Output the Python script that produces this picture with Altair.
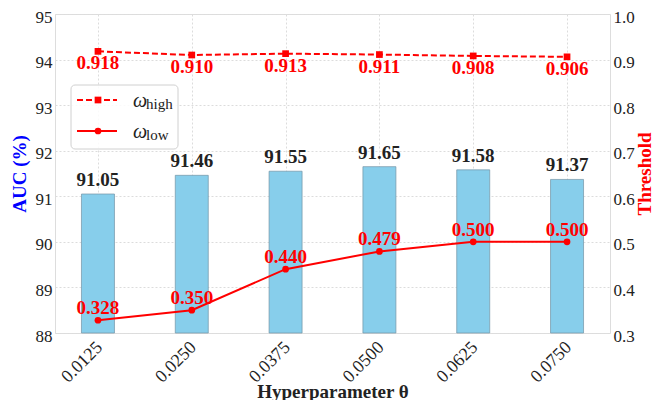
import altair as alt
import pandas as pd

thetas = ["0.0125", "0.0250", "0.0375", "0.0500", "0.0625", "0.0750"]
auc = [91.05, 91.46, 91.55, 91.65, 91.58, 91.37]
w_high = [0.918, 0.910, 0.913, 0.911, 0.908, 0.906]
w_low = [0.328, 0.350, 0.440, 0.479, 0.500, 0.500]

df = pd.DataFrame({"theta": thetas, "auc": auc, "w_high": w_high, "w_low": w_low})
df["auc_lbl"] = [f"{v:.2f}" for v in auc]
df["high_lbl"] = [f"{v:.3f}" for v in w_high]
df["low_lbl"] = [f"{v:.3f}" for v in w_low]

FONT = "Liberation Serif"
W, H = 555, 319

x = alt.X(
    "theta:O",
    sort=thetas,
    scale=alt.Scale(type="point", padding=0.458),
    axis=alt.Axis(
        title="Hyperparameter θ", labelAngle=-45, labelFontSize=18, labelColor="#222",
        titleFontSize=19, titleFontWeight="bold", titleColor="#222",
        titleBaseline="alphabetic", titleY=64,
        ticks=False, domain=False, labelPadding=5, labelOffset=-5,
        grid=True, gridDash=[2, 2], gridColor="#dcdcdc",
    ),
)

left_axis = alt.Axis(
    title="AUC (%)", values=list(range(88, 96)), orient="left",
    labelFontSize=17, labelColor="#222", titleFontSize=19, titleFontWeight="bold",
    titleColor="blue", titlePadding=6, ticks=False, domain=False, labelPadding=3,
    labelOffset=3,
    grid=True, gridDash=[2, 2], gridColor="#dcdcdc",
)
left_scale = alt.Scale(domain=[88, 95], zero=False, nice=False)

right_axis = alt.Axis(
    title="Threshold", values=[0.3, 0.4, 0.5, 0.6, 0.7, 0.8, 0.9, 1.0], format=".1f",
    orient="right", labelFontSize=17, labelColor="#222", titleFontSize=19,
    titleFontWeight="bold", titleColor="red", titlePadding=1, titleAngle=270,
    titleBaseline="top", labelOffset=3,
    ticks=False, domain=False, labelPadding=3, grid=False,
)
right_scale = alt.Scale(domain=[0.3, 1.0], zero=False, nice=False)

base = alt.Chart(df)

bars = base.mark_bar(size=33, color="#87CEEB", stroke="#7393a5", strokeWidth=0.7).encode(
    x=x,
    y=alt.Y("auc:Q", scale=left_scale, axis=left_axis),
    y2=alt.datum(88),
)
bar_text = base.mark_text(font=FONT, fontSize=19, fontWeight="bold", color="#222",
                          baseline="alphabetic", dy=-8).encode(
    x=x, y=alt.Y("auc:Q", scale=left_scale, axis=left_axis), text="auc_lbl:N"
)
left = alt.layer(bars, bar_text)

yh = alt.Y("w_high:Q", scale=right_scale, axis=right_axis)
yl = alt.Y("w_low:Q", scale=right_scale, axis=right_axis)

high_line = base.mark_line(color="red", strokeWidth=2, strokeDash=[6, 3]).encode(x=x, y=yh)
high_pts = base.mark_point(shape="square", filled=True, color="red", size=45, opacity=1).encode(x=x, y=yh)
high_txt = base.mark_text(font=FONT, fontSize=19, fontWeight="bold", color="red",
                          baseline="alphabetic", dy=18).encode(x=x, y=yh, text="high_lbl:N")
low_line = base.mark_line(color="red", strokeWidth=2).encode(x=x, y=yl)
low_pts = base.mark_point(shape="circle", filled=True, color="red", size=45, opacity=1).encode(x=x, y=yl)
low_txt = base.mark_text(font=FONT, fontSize=19, fontWeight="bold", color="red",
                         baseline="alphabetic", dy=-6).encode(x=x, y=yl, text="low_lbl:N")
right = alt.layer(high_line, high_pts, high_txt, low_line, low_pts, low_txt)

# legend (drawn manually for subscripts)
ld = alt.Chart(pd.DataFrame({"k": [0]}))
leg_box = ld.mark_rect(fill="white", fillOpacity=0.85, stroke="#d0d0d0", strokeWidth=1,
                       cornerRadius=4).encode(
    x=alt.value(16), x2=alt.value(123), y=alt.value(71), y2=alt.value(135))
leg_l1 = ld.mark_rule(color="red", strokeWidth=2, strokeDash=[6, 3]).encode(
    x=alt.value(22), x2=alt.value(62), y=alt.value(86))
leg_p1 = ld.mark_point(shape="square", filled=True, color="red", size=45, opacity=1).encode(
    x=alt.value(43), y=alt.value(86))
leg_l2 = ld.mark_rule(color="red", strokeWidth=2).encode(
    x=alt.value(22), x2=alt.value(62), y=alt.value(117))
leg_p2 = ld.mark_point(shape="circle", filled=True, color="red", size=45, opacity=1).encode(
    x=alt.value(43), y=alt.value(117))
leg_w1 = ld.mark_text(font=FONT, fontSize=20, fontStyle="italic", color="#222", align="left",
                      baseline="alphabetic").encode(x=alt.value(78), y=alt.value(93), text=alt.value("ω"))
leg_s1 = ld.mark_text(font=FONT, fontSize=15, color="#222", align="left",
                      baseline="alphabetic").encode(x=alt.value(91), y=alt.value(95), text=alt.value("high"))
leg_w2 = ld.mark_text(font=FONT, fontSize=20, fontStyle="italic", color="#222", align="left",
                      baseline="alphabetic").encode(x=alt.value(78), y=alt.value(124), text=alt.value("ω"))
leg_s2 = ld.mark_text(font=FONT, fontSize=15, color="#222", align="left",
                      baseline="alphabetic").encode(x=alt.value(91), y=alt.value(126), text=alt.value("low"))
legend = alt.layer(leg_box, leg_l1, leg_p1, leg_l2, leg_p2, leg_w1, leg_s1, leg_w2, leg_s2)

chart = alt.layer(left, right, legend).resolve_scale(y="independent").properties(
    width=W, height=H,
    autosize=alt.AutoSizeParams(type="none"),
    padding={"left": 47, "top": 6, "right": 45, "bottom": 67},
).configure_view(stroke="#cccccc", strokeWidth=1).configure(font=FONT)

chart.save("out.html", embed_options={"renderer": "svg", "actions": False})
